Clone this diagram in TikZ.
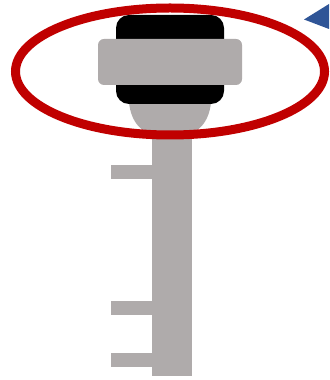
\documentclass[tikz,border=0pt]{standalone}
\usepackage{xcolor}
\usetikzlibrary{shapes.geometric}
\definecolor{keygray}{RGB}{175,171,171}
\definecolor{ringred}{RGB}{192,0,0}
\definecolor{markblue}{RGB}{47,85,151}
\begin{document}
\begin{tikzpicture}[
  keypart/.style={rectangle, fill=keygray, inner sep=0pt},
  keytooth/.style={keypart, minimum width=0.82cm, minimum height=0.28cm},
  ring/.style={ellipse, draw=ringred, line width=0.18cm, inner sep=0pt,
               minimum width=6.18cm, minimum height=2.54cm}
]
\useasboundingbox (0,0) rectangle (6.58,-7.6);

% Shaft and teeth
\node[keypart, minimum width=0.8cm, minimum height=4.9cm] (shaft) at (3.44, -5.07) {};
\node[keytooth] (toothA) at (2.63, -3.44) {};
\node[keytooth] (toothB) at (2.63, -6.16) {};
\node[keytooth] (toothC) at (2.63, -7.2) {};

% Head
\fill[keygray] (2.58,-1.8) -- (2.58,-2.05)
    .. controls (2.62,-2.45) and (2.85,-2.68) .. (3.1,-2.68)
    -- (3.7,-2.68)
    .. controls (3.95,-2.68) and (4.18,-2.45) .. (4.22,-2.05)
    -- (4.22,-1.8) -- cycle;

% Grip
\node[rectangle, fill=black, rounded corners=0.26cm, inner sep=0pt,
      minimum width=2.16cm, minimum height=1.78cm] (grip) at (3.4, -1.19) {};
\node[keypart, rounded corners=0.12cm, minimum width=2.88cm, minimum height=0.92cm]
    (band) at (3.4, -1.24) {};

% Ring
\node[ring] (ring) at (3.4, -1.43) {};

% Marker
\fill[markblue] (6.08,-0.39) -- (6.58,-0.08) -- (6.58,-0.58) -- cycle;

\end{tikzpicture}
\end{document}
